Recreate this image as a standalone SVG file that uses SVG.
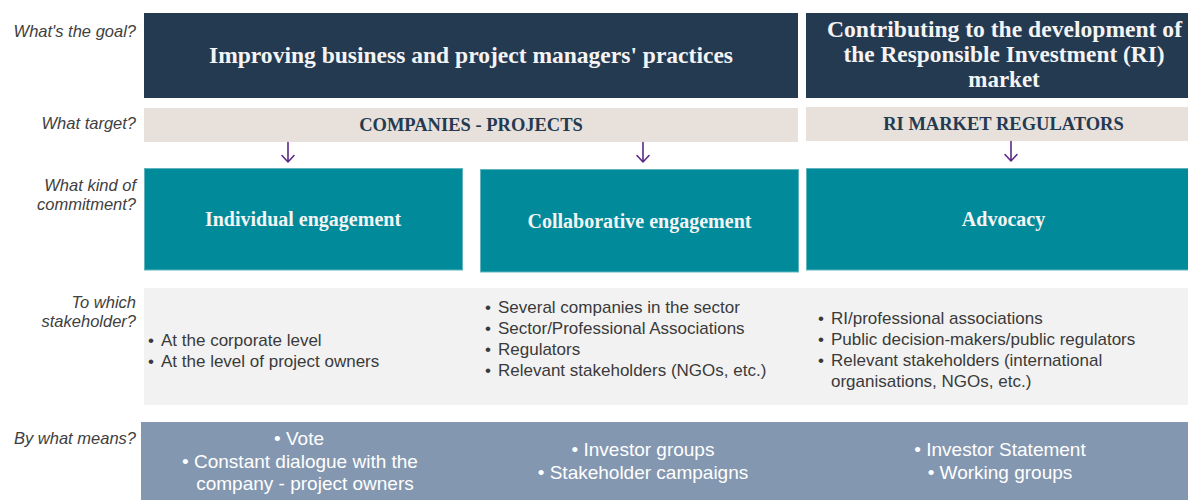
<svg xmlns="http://www.w3.org/2000/svg" width="1188" height="500" viewBox="0 0 1188 500">
<style>
.lbl{font-family:"Liberation Sans",Arial,sans-serif;font-style:italic;font-size:16.5px;fill:#404040;text-anchor:end}
.goal{fill:#243a51}
.tgt{fill:#e8e0da}
.com{fill:#008a9a;stroke:#5fb4be;stroke-width:1}
.stk{fill:#f2f2f2}
.mns{fill:#8497b0}
.h1{font-family:"Liberation Serif","Times New Roman",serif;font-weight:bold;font-size:23px;fill:#f4f4f4;text-anchor:middle}
.h2{font-family:"Liberation Serif","Times New Roman",serif;font-weight:bold;font-size:18.5px;fill:#243a51;text-anchor:middle}
.h3{font-family:"Liberation Serif","Times New Roman",serif;font-weight:bold;font-size:20px;fill:#f4f4f4;text-anchor:middle}
.st{font-family:"Liberation Sans",Arial,sans-serif;font-size:17px;fill:#3a3a3a}
.mt{font-family:"Liberation Sans",Arial,sans-serif;font-size:19px;fill:#ffffff;text-anchor:middle}
.arr{fill:none;stroke:#5b2a86;stroke-width:1.6;stroke-linecap:round;stroke-linejoin:round}
</style>
<rect width="1188" height="500" fill="#ffffff"/>
<g id="row-labels">
<text class="lbl" x="136" y="37">What's the goal?</text>
<text class="lbl" x="136" y="129">What target?</text>
<text class="lbl" x="136" y="191">What kind of</text>
<text class="lbl" x="136" y="210">commitment?</text>
<text class="lbl" x="136" y="308">To which</text>
<text class="lbl" x="136" y="327">stakeholder?</text>
<text class="lbl" x="136" y="444">By what means?</text>
</g>
<g id="goal-1">
<rect class="goal" x="144" y="13" width="654" height="85"/>
<text class="h1" x="471" y="63" textLength="524" lengthAdjust="spacingAndGlyphs">Improving business and project managers' practices</text>
</g>
<g id="goal-2">
<rect class="goal" x="806" y="13" width="382" height="85"/>
<text class="h1" x="1004.5" y="37" textLength="355" lengthAdjust="spacingAndGlyphs">Contributing to the development of</text>
<text class="h1" x="1004" y="62" textLength="321" lengthAdjust="spacingAndGlyphs">the Responsible Investment (RI)</text>
<text class="h1" x="1004" y="87">market</text>
</g>
<g id="target-1">
<rect class="tgt" x="144" y="108" width="654" height="34"/>
<text class="h2" x="471" y="131">COMPANIES - PROJECTS</text>
</g>
<g id="target-2">
<rect class="tgt" x="806" y="107" width="382" height="34"/>
<text class="h2" x="1003.5" y="130">RI MARKET REGULATORS</text>
</g>
<g id="connectors">
<path class="arr" d="M288 142.5V162M282 155.5L288 162L294 155.5"/>
<path class="arr" d="M643 142.5V162M637 155.5L643 162L649 155.5"/>
<path class="arr" d="M1011 141.5V161M1005 154.5L1011 161L1017 154.5"/>
</g>
<g id="commit-individual">
<rect class="com" x="144.5" y="168.5" width="318" height="101.5"/>
<text class="h3" x="303" y="226">Individual engagement</text>
</g>
<g id="commit-collaborative">
<rect class="com" x="480.5" y="169.5" width="318" height="102.5"/>
<text class="h3" x="639.5" y="228">Collaborative engagement</text>
</g>
<g id="commit-advocacy">
<rect class="com" x="806.5" y="168.5" width="382" height="101.5"/>
<text class="h3" x="1003.5" y="226">Advocacy</text>
</g>
<g id="stake-individual">
<rect class="stk" x="144" y="288" width="328" height="117"/>
<text class="st" y="345.5"><tspan x="148">•</tspan><tspan x="161">At the corporate level</tspan></text>
<text class="st" y="366.5"><tspan x="148">•</tspan><tspan x="161">At the level of project owners</tspan></text>
</g>
<g id="stake-collaborative">
<rect class="stk" x="472" y="288" width="334" height="117"/>
<text class="st" y="313"><tspan x="485">•</tspan><tspan x="498">Several companies in the sector</tspan></text>
<text class="st" y="334"><tspan x="485">•</tspan><tspan x="498">Sector/Professional Associations</tspan></text>
<text class="st" y="355"><tspan x="485">•</tspan><tspan x="498">Regulators</tspan></text>
<text class="st" y="376"><tspan x="485">•</tspan><tspan x="498">Relevant stakeholders (NGOs, etc.)</tspan></text>
</g>
<g id="stake-advocacy">
<rect class="stk" x="806" y="288" width="382" height="117"/>
<text class="st" y="323.5"><tspan x="818">•</tspan><tspan x="831">RI/professional associations</tspan></text>
<text class="st" y="344.5"><tspan x="818">•</tspan><tspan x="831">Public decision-makers/public regulators</tspan></text>
<text class="st" y="365.5"><tspan x="818">•</tspan><tspan x="831">Relevant stakeholders (international</tspan></text>
<text class="st" x="831" y="386.5">organisations, NGOs, etc.)</text>
</g>
<g id="means-individual">
<rect class="mns" x="141" y="422" width="331" height="78"/>
<text class="mt" x="299" y="445">• Vote</text>
<text class="mt" x="300" y="467.5">• Constant dialogue with the</text>
<text class="mt" x="305" y="490">company - project owners</text>
</g>
<g id="means-collaborative">
<rect class="mns" x="472" y="422" width="334" height="78"/>
<text class="mt" x="643" y="456">• Investor groups</text>
<text class="mt" x="643" y="478.5">• Stakeholder campaigns</text>
</g>
<g id="means-advocacy">
<rect class="mns" x="806" y="422" width="382" height="78"/>
<text class="mt" x="1000" y="456">• Investor Statement</text>
<text class="mt" x="1000" y="478.5">• Working groups</text>
</g>
</svg>
